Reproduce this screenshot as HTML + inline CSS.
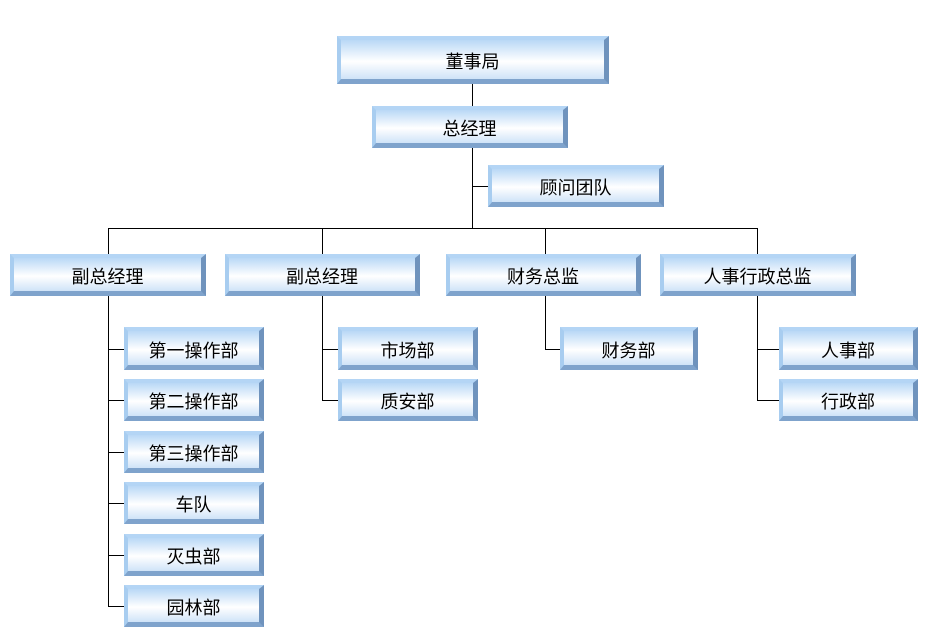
<!DOCTYPE html>
<html><head><meta charset="utf-8"><style>
body{margin:0;width:930px;height:639px;background:#fff;position:relative;overflow:hidden;font-family:"Liberation Sans","Noto Sans CJK SC",sans-serif;}
.b{position:absolute;box-sizing:border-box;border-style:solid;border-width:4px 5px 5px 4px;border-color:#b4d5f5 #6f93bd #7fa3cc #a8cdf0;background:linear-gradient(#b9d8f6,#ffffff 55%,#cfe3f8);display:flex;align-items:center;justify-content:center;font-size:18px;color:#000;padding-top:3px;}
.l{position:absolute;background:#000;}
</style></head><body>
<div class="l" style="left:472px;top:84px;width:1px;height:144px"></div>
<div class="l" style="left:472px;top:186px;width:16px;height:1px"></div>
<div class="l" style="left:108px;top:228px;width:650px;height:1px"></div>
<div class="l" style="left:108px;top:228px;width:1px;height:26px"></div>
<div class="l" style="left:322px;top:228px;width:1px;height:26px"></div>
<div class="l" style="left:545px;top:228px;width:1px;height:26px"></div>
<div class="l" style="left:757px;top:228px;width:1px;height:26px"></div>
<div class="l" style="left:108px;top:296px;width:1px;height:311px"></div>
<div class="l" style="left:108px;top:349px;width:16px;height:1px"></div>
<div class="l" style="left:108px;top:400px;width:16px;height:1px"></div>
<div class="l" style="left:108px;top:452px;width:16px;height:1px"></div>
<div class="l" style="left:108px;top:503px;width:16px;height:1px"></div>
<div class="l" style="left:108px;top:555px;width:16px;height:1px"></div>
<div class="l" style="left:108px;top:606px;width:16px;height:1px"></div>
<div class="l" style="left:322px;top:296px;width:1px;height:105px"></div>
<div class="l" style="left:322px;top:349px;width:16px;height:1px"></div>
<div class="l" style="left:322px;top:400px;width:16px;height:1px"></div>
<div class="l" style="left:545px;top:296px;width:1px;height:53px"></div>
<div class="l" style="left:545px;top:349px;width:15px;height:1px"></div>
<div class="l" style="left:757px;top:296px;width:1px;height:105px"></div>
<div class="l" style="left:757px;top:349px;width:22px;height:1px"></div>
<div class="l" style="left:757px;top:400px;width:22px;height:1px"></div>

<div class="b" style="left:337px;top:36px;width:272px;height:48px">董事局</div>
<div class="b" style="left:372px;top:106px;width:196px;height:42px">总经理</div>
<div class="b" style="left:488px;top:165px;width:176px;height:42px">顾问团队</div>
<div class="b" style="left:10px;top:254px;width:196px;height:42px">副总经理</div>
<div class="b" style="left:225px;top:254px;width:195px;height:42px">副总经理</div>
<div class="b" style="left:446px;top:254px;width:195px;height:42px">财务总监</div>
<div class="b" style="left:660px;top:254px;width:196px;height:42px">人事行政总监</div>
<div class="b" style="left:124px;top:327px;width:140px;height:43px">第一操作部</div>
<div class="b" style="left:124px;top:379px;width:140px;height:42px">第二操作部</div>
<div class="b" style="left:124px;top:431px;width:140px;height:42px">第三操作部</div>
<div class="b" style="left:124px;top:482px;width:140px;height:42px">车队</div>
<div class="b" style="left:124px;top:534px;width:140px;height:42px">灭虫部</div>
<div class="b" style="left:124px;top:585px;width:140px;height:42px">园林部</div>
<div class="b" style="left:338px;top:327px;width:140px;height:43px">市场部</div>
<div class="b" style="left:338px;top:379px;width:140px;height:42px">质安部</div>
<div class="b" style="left:560px;top:327px;width:138px;height:43px">财务部</div>
<div class="b" style="left:779px;top:327px;width:139px;height:43px">人事部</div>
<div class="b" style="left:779px;top:379px;width:139px;height:42px">行政部</div>
</body></html>
